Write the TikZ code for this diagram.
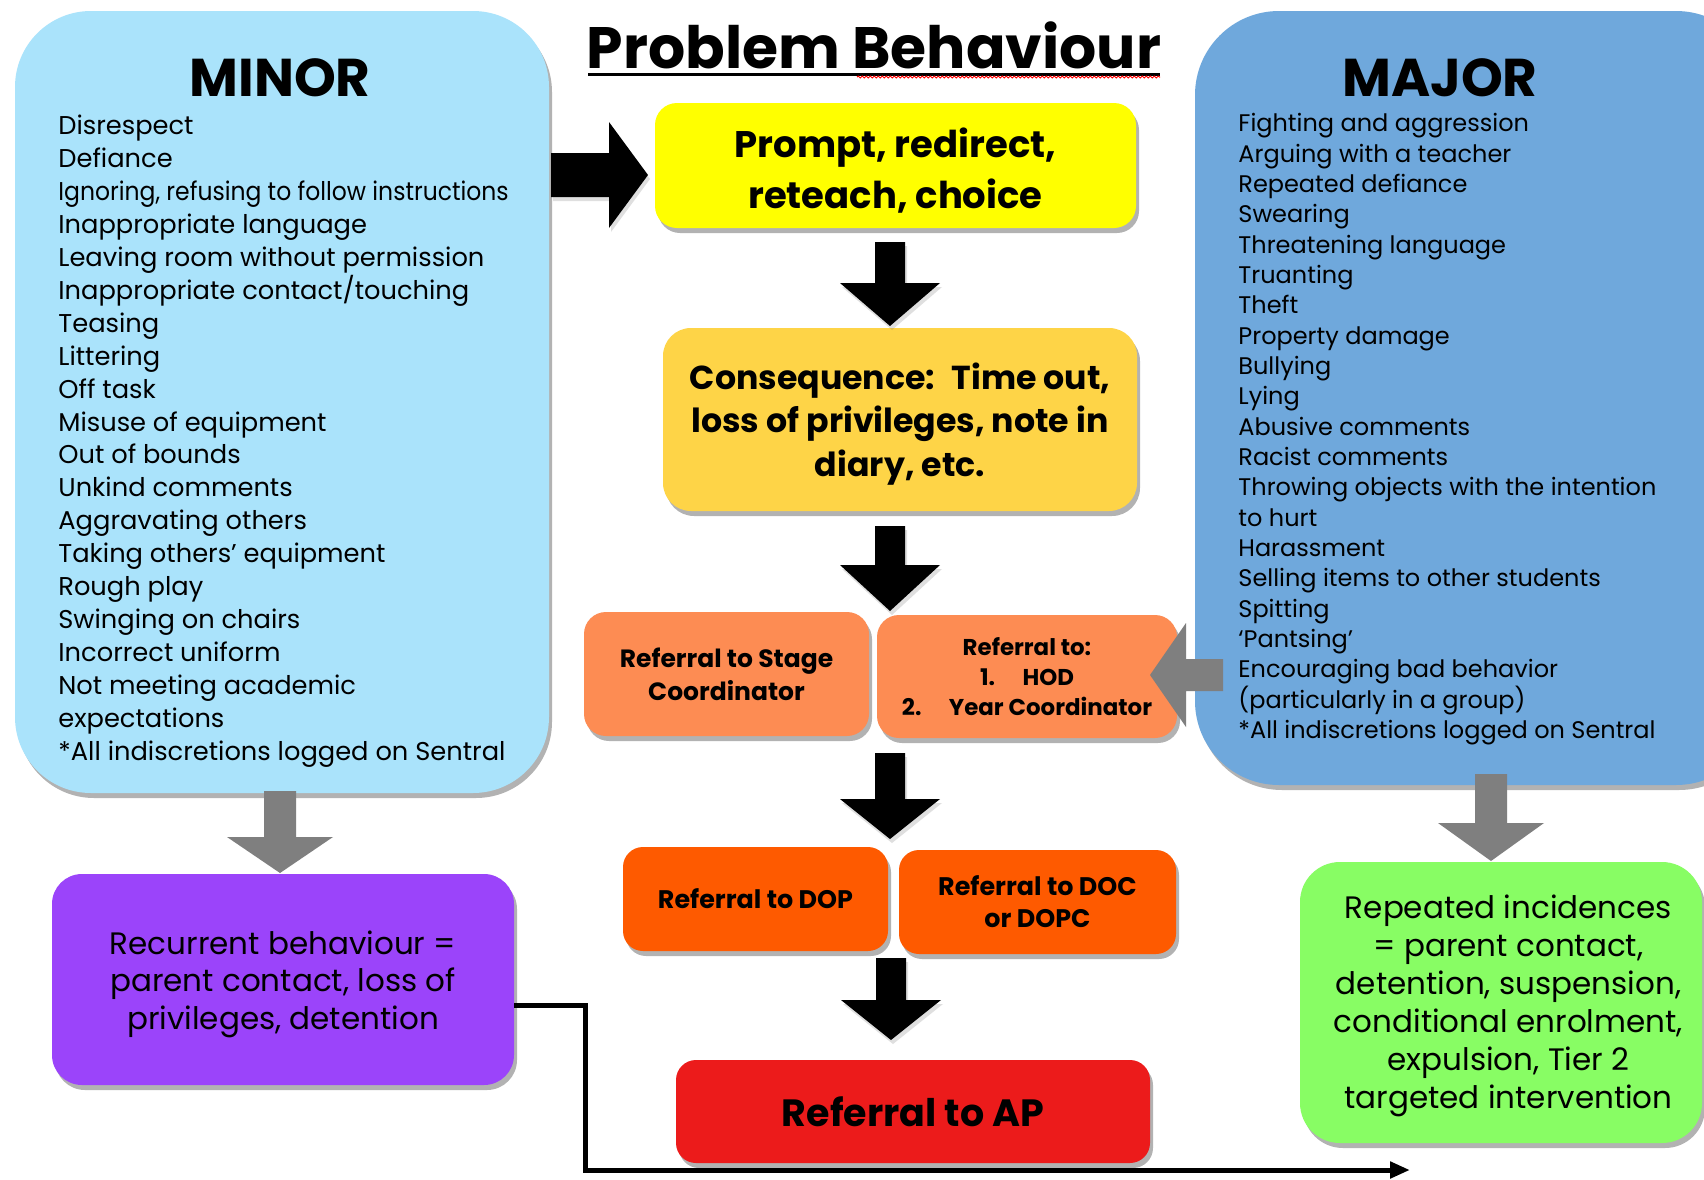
\documentclass[tikz,border=0pt]{standalone}
\usepackage{fontspec}
\setmainfont{Poppins}
\usepackage{graphicx}
\usetikzlibrary{shadows,arrows.meta,decorations.pathmorphing}
\definecolor{minorblue}{HTML}{AAE3FB}
\definecolor{majorblue}{HTML}{6FA8DC}
\definecolor{promptyellow}{HTML}{FFFF00}
\definecolor{consgold}{HTML}{FED447}
\definecolor{salmon}{HTML}{FD8C53}
\definecolor{deeporange}{HTML}{FE5A00}
\definecolor{apred}{HTML}{EC1B1B}
\definecolor{recpurple}{HTML}{9B44FA}
\definecolor{repgreen}{HTML}{88FD64}
\definecolor{arrowgray}{HTML}{7F7F7F}
\newcommand\blkdown[7]{\fill[#1] ({#2-#6},#3) -- ({#2+#6},#3) -- ({#2+#6},#4) -- ({#2+#7},#4) -- (#2,#5) -- ({#2-#7},#4) -- ({#2-#6},#4) -- cycle;}
\begin{document}
\begin{tikzpicture}[x=0.5pt,y=-0.5pt,
  boxshadow/.style={drop shadow={shadow xshift=1.5pt,shadow yshift=-2.5pt,opacity=0.3,fill=black}},
  rbox/.style={rectangle,rounded corners=#1,draw=none,align=center,inner sep=0pt,boxshadow},
  rbox/.default=11pt,
  boxtext/.style={align=center,inner sep=0pt},
  listtext/.style={align=left,inner sep=0pt,anchor=north west},
  heading/.style={inner sep=0pt,font=\bfseries\fontsize{26.6}{30}\selectfont},
  blackarrow/.style={black,drop shadow={shadow xshift=1pt,shadow yshift=-2pt,opacity=0.25}},
  grayarrow/.style={arrowgray},
  conn/.style={line width=2.5pt,-{Triangle[length=10pt,width=8pt]}}
]
\clip (0,0) rectangle (1704,1179);
\fill[white] (0,0) rectangle (1704,1179);

% big side panels
\node[rbox=38pt,fill=minorblue,minimum width=267pt,minimum height=391pt] (minor) at (282,402) {};
\node[rbox=42pt,fill=majorblue,minimum width=282.5pt,minimum height=387pt] (major) at (1477.5,398) {};

\node[heading] (minortitle) at (280,78) {MINOR};
\node[heading] (majortitle) at (1440,78) {MAJOR};

\node[listtext,font=\fontsize{12.86}{16.45}\selectfont] (minorlist) at (58,115) {Disrespect\\Defiance\\\scalebox{0.913}[1]{Ignoring, refusing to follow instructions}\\Inappropriate language\\Leaving room without permission\\Inappropriate contact/touching\\Teasing\\Littering\\Off task\\Misuse of equipment\\Out of bounds\\Unkind comments\\Aggravating others\\Taking others’ equipment\\Rough play\\Swinging on chairs\\Incorrect uniform\\Not meeting academic\\expectations\\*All indiscretions logged on Sentral};

\node[listtext,font=\fontsize{12.0}{15.17}\selectfont] (majorlist) at (1238,113) {Fighting and aggression\\Arguing with a teacher\\Repeated defiance\\Swearing\\Threatening language\\Truanting\\Theft\\Property damage\\Bullying\\Lying\\Abusive comments\\Racist comments\\Throwing objects with the intention\\to hurt\\Harassment\\Selling items to other students\\Spitting\\‘Pantsing’\\Encouraging bad behavior\\(particularly in a group)\\*All indiscretions logged on Sentral};

% title
\node[inner sep=0pt,font=\bfseries\fontsize{29.2}{33}\selectfont] (title) at (874,45) {Problem Behaviour};
\draw[line width=1.5pt] (588,74) -- (1160,74);
\draw[red,line width=0.5pt,decorate,decoration={snake,amplitude=0.5pt,segment length=2pt}] (857,77) -- (1160,77);

% centre flow boxes
\node[rbox=11pt,fill=promptyellow,minimum width=240.5pt,minimum height=62.5pt] (prompt) at (895.5,165.5) {};
\node[boxtext,font=\bfseries\fontsize{18.5}{25.5}\selectfont] (prompttext) at (895.5,171) {Prompt, redirect,\\reteach, choice};
\node[rbox=14pt,fill=consgold,minimum width=237pt,minimum height=91.5pt] (cons) at (900,419.5) {};
\node[boxtext,font=\bfseries\fontsize{16.6}{21.75}\selectfont] (constext) at (900,424) {Consequence:~ Time out,\\loss of privileges, note in\\diary, etc.};
\node[rbox=11pt,fill=salmon,minimum width=142.5pt,minimum height=62pt,font=\bfseries\fontsize{12.5}{16.5}\selectfont] (stage) at (726.5,674) {Referral to Stage\\Coordinator};
\node[rbox=11pt,fill=salmon,minimum width=150pt,minimum height=61.5pt,font=\bfseries\fontsize{11.45}{15}\selectfont] (hod) at (1027,676.5) {Referral to:\\1.\hspace{1.2em}HOD\\2.\hspace{1.2em}Year Coordinator};
\node[rbox=10pt,fill=deeporange,minimum width=132.5pt,minimum height=52pt,font=\bfseries\fontsize{12.7}{16}\selectfont] (dop) at (755.5,899) {Referral to DOP};
\node[rbox=10pt,fill=deeporange,minimum width=138.5pt,minimum height=52pt,font=\bfseries\fontsize{12.7}{16}\selectfont] (doc) at (1037.5,902) {Referral to DOC\\or DOPC};
\node[rbox=10pt,fill=apred,minimum width=237pt,minimum height=51.5pt,font=\bfseries\fontsize{19}{22}\selectfont] (ap) at (913,1111.5) {Referral to AP};

% outcome boxes
\node[rbox=15pt,fill=recpurple,minimum width=231pt,minimum height=105.5pt] (rec) at (283,979.5) {};
\node[boxtext,font=\fontsize{15.5}{18.75}\selectfont] (rectext) at (283,984) {Recurrent behaviour =\\parent contact, loss of\\privileges, detention};
\node[rbox=20pt,fill=repgreen,minimum width=201pt,minimum height=140.5pt] (rep) at (1501,1002.5) {};
\node[boxtext,font=\fontsize{15.5}{19}\selectfont] (reptext) at (1508.5,1006) {Repeated incidences\\= parent contact,\\detention, suspension,\\conditional enrolment,\\expulsion, Tier 2\\targeted intervention};

% block arrows
\fill[blackarrow] (551,153) -- (609,153) -- (609,122) -- (648,175) -- (609,228) -- (609,197) -- (551,197) -- cycle;
\blkdown{blackarrow}{890}{242}{283}{326}{15}{50}
\blkdown{blackarrow}{890}{526}{565}{611}{15}{50}
\blkdown{blackarrow}{890}{753}{799}{839}{15}{50}
\blkdown{blackarrow}{891}{958}{1000}{1040}{15}{50}
\blkdown{grayarrow}{280}{791}{837}{873}{16}{53}
\blkdown{grayarrow}{1491}{774}{823}{861}{16}{53}
\fill[grayarrow] (1223,659) -- (1186,659) -- (1186,623) -- (1150,675) -- (1186,727) -- (1186,691) -- (1223,691) -- cycle;

% connector
\coordinate (c1) at (585,1005);
\coordinate (c2) at (585,1170);
\coordinate (cend) at (1410,1170);
\draw[conn] (rec.east |- c1) -- (c1) -- (c2) -- (cend);
\end{tikzpicture}
\end{document}
